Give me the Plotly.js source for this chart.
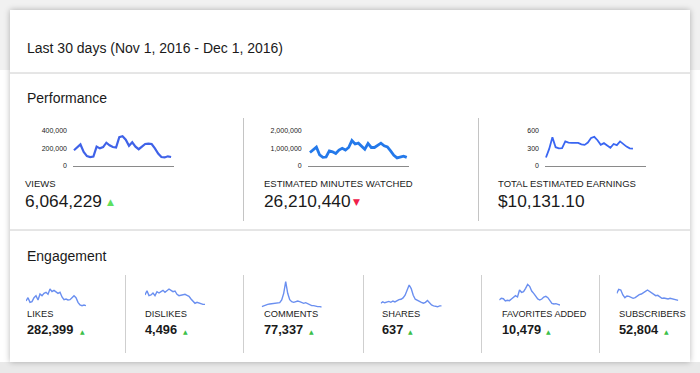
<!DOCTYPE html>
<html>
<head>
<meta charset="utf-8">
<script src="https://cdn.plot.ly/plotly-3.0.1.min.js"></script>
<style>
  html, body { margin:0; padding:0; width:700px; height:373px; overflow:hidden; background:#ffffff; }
  #topband { position:absolute; left:0; top:0; width:700px; height:70px; background:#f1f1f1; }
  #botband { position:absolute; left:0; top:362px; width:700px; height:11px; background:#e9e9e9; }
  #card { position:absolute; left:10px; top:10px; width:680px; height:352px; background:#ffffff;
          box-shadow: 0 0 6px rgba(0,0,0,0.28); }
  #chart { position:absolute; left:0; top:0; width:700px; height:373px; }
</style>
</head>
<body>
<div id="topband"></div>
<div id="botband"></div>
<div id="card"></div>
<div id="chart"></div>
<script>
// ---- Data ----
const headerText = "Last 30 days (Nov 1, 2016 - Dec 1, 2016)";

const views = [178000, 210000, 245000, 160000, 110000, 100000, 105000, 220000, 200000, 215000,
               265000, 235000, 215000, 210000, 330000, 340000, 300000, 230000, 270000, 220000,
               190000, 220000, 250000, 255000, 250000, 200000, 140000, 100000, 95000, 108000, 100000];
const minutesWatched = [760000, 890000, 1070000, 620000, 480000, 500000, 850000, 800000, 700000, 900000,
               1000000, 900000, 1050000, 1450000, 1250000, 1300000, 1150000, 950000, 1280000, 1050000,
               1050000, 1200000, 1300000, 1150000, 1080000, 850000, 600000, 450000, 500000, 550000, 480000];
const earnings = [142, 290, 490, 320, 300, 305, 420, 400, 395, 400,
               395, 370, 360, 400, 480, 500, 440, 360, 390, 350,
               310, 375, 355, 420, 370, 330, 300, 295];

const likes = [8200, 9200, 7800, 8000, 9200, 9800, 8500, 10300, 9800, 10500,
               10800, 10200, 11800, 11000, 11400, 10800, 10500, 10800, 9400, 8600,
               8800, 8500, 8600, 9200, 9800, 9200, 7800, 7000, 6800, 7000, 6800];
const dislikes = [140, 166, 136, 140, 152, 136, 160, 152, 160, 168,
               156, 164, 176, 168, 160, 164, 144, 136, 138, 140,
               144, 138, 132, 116, 100, 90, 96, 92, 86, 84, 84];
const comments = [1350, 1620, 1800, 1980, 2070, 2160, 2160, 2250, 2250, 2430,
               3150, 4950, 8100, 4950, 3240, 2700, 2520, 2700, 2880, 2700,
               2430, 2250, 2430, 2160, 1800, 1620, 1620, 1440, 1350, 1350, 1260];
const shares = [19, 22, 20, 21, 23, 21, 24, 22, 25, 27,
               28, 31, 37, 49, 60, 52, 37, 28, 25, 22,
               21, 19, 21, 25, 19, 15, 13, 12, 11, 13, 13];
const favorites = [262, 300, 292, 240, 255, 248, 285, 315, 360, 330,
               488, 435, 450, 525, 615, 570, 465, 412, 345, 285,
               262, 285, 330, 345, 315, 240, 188, 172, 180, 165, 150];
const subscribers = [2200, 2680, 2600, 2000, 1680, 1880, 1840, 1680, 1600, 1680,
               1880, 2040, 2120, 2240, 2440, 2600, 2440, 2280, 2080, 1920,
               1960, 1720, 1600, 1640, 1600, 1520, 1600, 1520, 1440, 1440, 1360];

const perfLabels = ["VIEWS", "ESTIMATED MINUTES WATCHED", "TOTAL ESTIMATED EARNINGS"];
const perfTotals = ["6,064,229", "26,210,440", "$10,131.10"];
const perfTrend  = ["up", "down", "none"];
const viewsTicks = [0, 200000, 400000];
const viewsTickText = ["0", "200,000", "400,000"];
const minutesTicks = [0, 1000000, 2000000];
const minutesTickText = ["0", "1,000,000", "2,000,000"];
const earningsTicks = [0, 300, 600];
const earningsTickText = ["0", "300", "600"];

const engLabels = ["LIKES", "DISLIKES", "COMMENTS", "SHARES", "FAVORITES ADDED", "SUBSCRIBERS"];
const engTotals = ["282,399", "4,496", "77,337", "637", "10,479", "52,804"];

// ---- Layout helpers ----
const W = 700, H = 373;
const px = x => x / W;
const py = y => 1 - y / H;
const days = n => Array.from({length: n}, (_, i) => i);

const FONT = "Arial, 'Liberation Sans', Helvetica, sans-serif";
const traces = [];
const layout = {
  width: W, height: H,
  margin: {l:0, r:0, t:0, b:0},
  paper_bgcolor: "rgba(0,0,0,0)",
  plot_bgcolor: "rgba(0,0,0,0)",
  showlegend: false,
  font: {family: FONT, color: "#222"},
  annotations: [],
  shapes: []
};

function ann(text, x, y, size, opts) {
  layout.annotations.push(Object.assign({
    text: text, x: px(x), y: py(y), xref: "paper", yref: "paper",
    xanchor: "left", yanchor: "middle", showarrow: false,
    font: {family: FONT, size: size, color: "#1a1a1a"}
  }, opts || {}));
}
function line(x0, y0, x1, y1, color) {
  layout.shapes.push({type: "line", xref: "paper", yref: "paper",
    x0: px(x0), y0: py(y0), x1: px(x1), y1: py(y1),
    line: {color: color || "#cfcfcf", width: 1}});
}

// Performance sparklines
const perf = [
  {data: views, color: "#3f62e8", width: 2.2, dom: [73, 174], range: [-0.3, 30.9], tv: viewsTicks, tt: viewsTickText},
  {data: minutesWatched, color: "#2479ea", width: 2.8, dom: [307.7, 409], range: [-0.7, 30.7], tv: minutesTicks, tt: minutesTickText},
  {data: earnings, color: "#3a66f2", width: 1.8, dom: [545, 646], range: [-0.3, 31.05], tv: earningsTicks, tt: earningsTickText}
];
perf.forEach((p, i) => {
  const n = i + 1;
  const xa = "xaxis" + (n === 1 ? "" : n), ya = "yaxis" + (n === 1 ? "" : n);
  traces.push({type: "scatter", mode: "lines", x: days(p.data.length), y: p.data,
    xaxis: "x" + (n === 1 ? "" : n), yaxis: "y" + (n === 1 ? "" : n),
    line: {color: p.color, width: p.width, shape: "linear"}, hoverinfo: "skip"});
  layout[xa] = {domain: [px(p.dom[0]), px(p.dom[1])], range: p.range, anchor: "y" + (n === 1 ? "" : n),
    showgrid: false, zeroline: false, showline: true, linecolor: "#8a8a8a", linewidth: 1,
    showticklabels: false, ticks: "", fixedrange: true};
  layout[ya] = {domain: [py(165.7), py(131)], range: [0, p.tv[2]], anchor: "x" + (n === 1 ? "" : n),
    showgrid: false, zeroline: false, showline: false, ticks: "",
    tickvals: p.tv, ticktext: p.tt, ticklabelstandoff: 5,
    tickfont: {family: FONT, size: 7, color: "#222"}, fixedrange: true};
});

// Engagement sparklines
const eng = [
  {data: likes,       x: [26, 86],      range: [6000, 14500]},
  {data: dislikes,    x: [145, 205],    range: [60, 230]},
  {data: comments,    x: [261.7, 321.7],range: [900, 8550]},
  {data: shares,      x: [380.7, 441.7],range: [7.5, 71.25]},
  {data: favorites,   x: [499.3, 560],  range: [75, 712.5]},
  {data: subscribers, x: [616.7, 678.3],range: [400, 3800]}
];
eng.forEach((e, i) => {
  const n = i + 4;
  traces.push({type: "scatter", mode: "lines", x: days(e.data.length), y: e.data,
    xaxis: "x" + n, yaxis: "y" + n,
    line: {color: "#6a8ff0", width: 1.4}, hoverinfo: "skip"});
  layout["xaxis" + n] = {domain: [px(e.x[0]), px(e.x[1])], range: [0, 30], anchor: "y" + n,
    visible: false, fixedrange: true};
  layout["yaxis" + n] = {domain: [py(308.33), py(280)], range: e.range, anchor: "x" + n,
    visible: false, fixedrange: true};
});

// Text
ann(headerText, 25, 48, 14);
ann("Performance", 25, 98, 14);
ann("Engagement", 25, 256, 14);

const perfX = [23, 262, 496];
const trendX = [110.7, 356, 0];
perfLabels.forEach((t, i) => {
  ann(t, perfX[i], 183, 9.5);
  ann(perfTotals[i], perfX[i], 200.5, 17.3);
  if (perfTrend[i] === "up") ann("▲", trendX[i], 202, 9, {xanchor: "center", font: {family: "DejaVu Sans", size: 9, color: "#5fe05f"}});
  if (perfTrend[i] === "down") ann("▼", trendX[i], 201.5, 9, {xanchor: "center", font: {family: "DejaVu Sans", size: 9, color: "#f0204a"}});
});

const engX = [25, 142.5, 262, 379.5, 500, 617];
const engTri = [82.7, 185, 311, 410.7, 548.3, 666.7];
engLabels.forEach((t, i) => {
  ann(t, engX[i], 314, 9.3, t === "FAVORITES ADDED" ? {font: {family: FONT, size: 9.1, color: "#1a1a1a"}} : {});
  ann("<b>" + engTotals[i] + "</b>", engX[i], 329.5, 12.8);
  ann("▲", engTri[i], 331, 6, {xanchor: "center", font: {family: "DejaVu Sans", size: 6, color: "#3cbf4a"}});
});

// Separators
line(10, 73, 690, 73, "#cccccc");
line(10, 230, 690, 230, "#cccccc");
line(243.5, 118, 243.5, 221, "#c4c4c4");
line(478.5, 118, 478.5, 221, "#c4c4c4");
[125, 243, 363, 481, 599].forEach(x => line(x + 0.5, 275, x + 0.5, 353, "#cfcfcf"));

Plotly.newPlot("chart", traces, layout, {displayModeBar: false, staticPlot: true});
</script>
</body>
</html>
